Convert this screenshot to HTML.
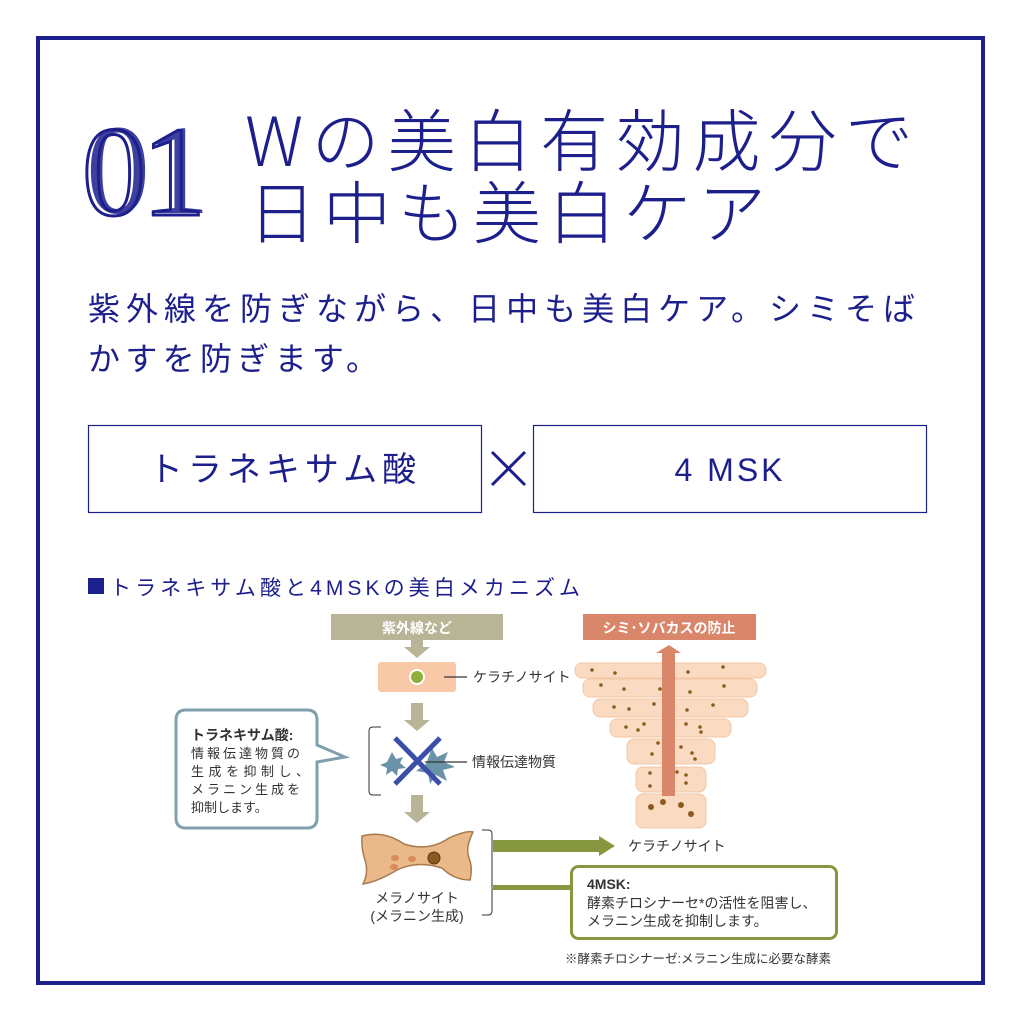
<!DOCTYPE html>
<html><head><meta charset="utf-8"><style>
html,body{margin:0;padding:0;background:#fff}
svg{display:block}
</style></head><body>
<svg width="1020" height="1020" viewBox="0 0 1020 1020" xmlns="http://www.w3.org/2000/svg" font-family="'Liberation Sans','Noto Sans CJK JP',sans-serif">
<rect x="0" y="0" width="1020" height="1020" fill="#fff"/>
<rect x="38" y="38" width="945" height="945" fill="none" stroke="#1c1f8c" stroke-width="4"/>
<text x="82" y="215" font-family="'Liberation Serif',serif" font-size="128" fill="#fff" stroke="#1c1f8c" stroke-width="3" letter-spacing="-4">01</text>
<text x="86" y="213" font-family="'Liberation Serif',serif" font-size="128" fill="#1c1f8c" letter-spacing="-4" opacity="0.85">01</text>
<g fill="#1c1f8c" font-size="68" font-weight="300" font-family="'Noto Sans CJK JP',sans-serif">
<text x="245" y="166" textLength="668" lengthAdjust="spacing">Wの美白有効成分で</text>
<text x="248" y="238" textLength="518" lengthAdjust="spacing">日中も美白ケア</text>
</g>
<g fill="#1c1f8c" font-size="32">
<text x="88" y="320" textLength="827" lengthAdjust="spacing">紫外線を防ぎながら、日中も美白ケア。シミそば</text>
<text x="88" y="370" textLength="290" lengthAdjust="spacing">かすを防ぎます。</text>
</g>
<rect x="88.5" y="425.5" width="393" height="87" fill="none" stroke="#1c1f8c" stroke-width="1.2"/>
<rect x="533.5" y="425.5" width="393" height="87" fill="none" stroke="#1c1f8c" stroke-width="1.2"/>
<text x="285" y="481" text-anchor="middle" font-size="34" fill="#1c1f8c" letter-spacing="5">トラネキサム酸</text>
<text x="730" y="481" text-anchor="middle" font-size="32" fill="#1c1f8c" letter-spacing="3">4 MSK</text>
<path d="M492 452 L525 485 M525 452 L492 485" stroke="#1c1f8c" stroke-width="3"/>
<rect x="88" y="578" width="16" height="16" fill="#1c1f8c"/>
<text x="110" y="595" font-size="21" fill="#1c1f8c" textLength="470" lengthAdjust="spacing">トラネキサム酸と4MSKの美白メカニズム</text>

<!-- left flow -->
<rect x="331" y="614" width="172" height="26" fill="#b8b596"/>
<text x="417" y="633" text-anchor="middle" font-size="14" font-weight="bold" fill="#fff">紫外線など</text>
<path d="M411 640 h12 v7 h7 l-13 11 l-13 -11 h7z" fill="#b8b596"/>
<rect x="378" y="662" width="78" height="30" rx="3" fill="#f7c9a6"/>
<circle cx="417" cy="677" r="8" fill="#fff"/>
<circle cx="417" cy="677" r="6" fill="#8fae3a"/>
<line x1="444" y1="677" x2="467" y2="677" stroke="#333" stroke-width="1.3"/>
<text x="473" y="682" font-size="14" fill="#333">ケラチノサイト</text>
<path d="M411 703 h12 v17 h7 l-13 11 l-13 -11 h7z" fill="#b8b596"/>
<path d="M381 727 h-8 q-4 0 -4 4 v60 q0 4 4 4 h8" fill="none" stroke="#333" stroke-width="1"/>
<polygon points="392,752 396,759 403,757 400,763 406,768 398,769 397,776 392,771 386,775 387,768 380,765 387,762" fill="#6b93a8"/>
<polygon points="432,748 437,757 448,752 444,762 455,767 443,770 447,781 436,775 430,784 428,773 416,771 426,764" fill="#6b93a8"/>
<path d="M395 738 L440 784 M440 738 L395 784" stroke="#3b4fa8" stroke-width="5"/>
<line x1="425" y1="762" x2="467" y2="762" stroke="#333" stroke-width="1.3"/>
<text x="472" y="767" font-size="14" fill="#333">情報伝達物質</text>
<path d="M411 795 h12 v17 h7 l-13 11 l-13 -11 h7z" fill="#b8b596"/>
<path d="M186 710 h121 q10 0 10 10 v25 l28 12 l-28 5 v56 q0 10 -10 10 h-121 q-10 0 -10 -10 v-98 q0 -10 10 -10z" fill="#fff" stroke="#7fa0ac" stroke-width="3"/>
<g font-size="13" fill="#333">
<text x="191" y="740" font-weight="bold" font-size="14">トラネキサム酸:</text>
<text x="191" y="758" textLength="109" lengthAdjust="spacing">情報伝達物質の</text>
<text x="191" y="776" textLength="118" lengthAdjust="spacing">生成を抑制し、</text>
<text x="191" y="794" textLength="109" lengthAdjust="spacing">メラニン生成を</text>
<text x="191" y="812">抑制します。</text>
</g>
<path d="M362 836 q22 -6 42 8 q25 8 45 -6 q18 -8 24 -6 q-8 16 -4 26 q4 10 1 22 q-16 0 -28 -12 q-25 -8 -45 2 q-20 12 -34 14 q6 -12 2 -24 q-4 -12 -3 -24z" fill="#e9b98a" stroke="#a87a4d" stroke-width="1.5"/>
<circle cx="434" cy="858" r="6" fill="#8a5a1f" stroke="#5b3a12"/>
<ellipse cx="395" cy="858" rx="4" ry="3" fill="#d98a5a"/>
<ellipse cx="412" cy="859" rx="4" ry="3" fill="#d98a5a"/>
<ellipse cx="394" cy="867" rx="4" ry="3" fill="#d98a5a"/>
<text x="417" y="903" text-anchor="middle" font-size="14" fill="#333">メラノサイト</text>
<text x="417" y="921" text-anchor="middle" font-size="14" fill="#333">(メラニン生成)</text>
<path d="M482 830 h6 q4 0 4 4 v77 q0 4 -4 4 h-6" fill="none" stroke="#333" stroke-width="1"/>
<rect x="493" y="840" width="106" height="12" fill="#86973f"/>
<polygon points="599,836 615,846 599,856" fill="#86973f"/>
<text x="628" y="851" font-size="14" fill="#333">ケラチノサイト</text>
<rect x="493" y="885" width="78" height="5" fill="#86973f"/>
<rect x="571.5" y="866.5" width="265" height="72" rx="7" fill="#fff" stroke="#86973f" stroke-width="3"/>
<g font-size="14" fill="#333">
<text x="587" y="889" font-weight="bold">4MSK:</text>
<text x="587" y="908">酵素チロシナーセ*の活性を阻害し、</text>
<text x="587" y="926">メラニン生成を抑制します。</text>
</g>
<text x="565" y="963" font-size="12.5" fill="#333">※酵素チロシナーゼ:メラニン生成に必要な酵素</text>

<!-- right column -->
<rect x="583" y="614" width="173" height="26" fill="#d9866a"/>
<text x="669" y="633" text-anchor="middle" font-size="14" font-weight="bold" fill="#fff">シミ･ソバカスの防止</text>
<g fill="#fadbc2" stroke="#f1c6a3" stroke-width="1">
<rect x="575" y="663" width="191" height="15" rx="7"/>
<rect x="583" y="679" width="174" height="18" rx="7"/>
<rect x="593" y="699" width="155" height="18" rx="7"/>
<rect x="610" y="719" width="121" height="18" rx="7"/>
<rect x="627" y="739" width="88" height="25" rx="7"/>
<rect x="636" y="767" width="70" height="25" rx="7"/>
<rect x="636" y="794" width="70" height="34" rx="7"/>
</g>
<g fill="#8a5a1f">
<circle cx="592" cy="670" r="1.8"/><circle cx="615" cy="673" r="1.8"/><circle cx="688" cy="672" r="1.8"/><circle cx="723" cy="667" r="1.8"/>
<circle cx="601" cy="685" r="1.8"/><circle cx="624" cy="689" r="1.8"/><circle cx="660" cy="689" r="1.8"/><circle cx="690" cy="692" r="1.8"/><circle cx="724" cy="686" r="1.8"/>
<circle cx="614" cy="707" r="1.8"/><circle cx="629" cy="709" r="1.8"/><circle cx="654" cy="704" r="1.8"/><circle cx="687" cy="710" r="1.8"/><circle cx="713" cy="705" r="1.8"/>
<circle cx="626" cy="727" r="1.8"/><circle cx="638" cy="730" r="1.8"/><circle cx="644" cy="724" r="1.8"/><circle cx="686" cy="724" r="1.8"/><circle cx="700" cy="727" r="1.8"/><circle cx="701" cy="732" r="1.8"/>
<circle cx="658" cy="743" r="1.8"/><circle cx="652" cy="754" r="1.8"/><circle cx="681" cy="747" r="1.8"/><circle cx="692" cy="753" r="1.8"/><circle cx="695" cy="759" r="1.8"/>
<circle cx="650" cy="773" r="1.8"/><circle cx="677" cy="772" r="1.8"/><circle cx="686" cy="775" r="1.8"/><circle cx="686" cy="783" r="1.8"/><circle cx="650" cy="786" r="1.8"/>
<circle cx="651" cy="807" r="3"/><circle cx="663" cy="802" r="3"/><circle cx="681" cy="805" r="3"/><circle cx="691" cy="814" r="3"/>
</g>
<rect x="662" y="652" width="13" height="144" fill="#d9866a"/>
<polygon points="656,653 669,645 681,653" fill="#d9866a"/>
</svg>
</body></html>
